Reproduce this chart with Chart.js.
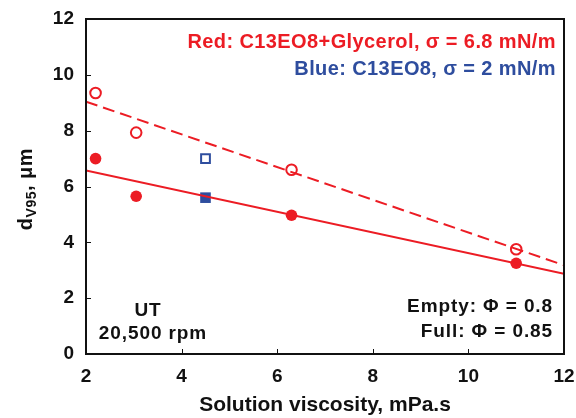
<!DOCTYPE html>
<html>
<head>
<meta charset="utf-8">
<script src="https://cdn.jsdelivr.net/npm/chart.js@4"></script>
<style>
  html, body { margin: 0; padding: 0; background: #fff; }
  #wrap { width: 576px; height: 418px; }
</style>
</head>
<body>
<div id="wrap"><canvas id="myChart" width="576" height="418"></canvas></div>
<script>
// values
const redEmptyX = [2.2, 3.05, 6.3, 11];
const redEmptyY = [9.35, 7.93, 6.6, 3.75];
const redFullX = [2.2, 3.05, 6.3, 11];
const redFullY = [7.0, 5.65, 4.97, 3.25];
const blueEmptyX = [4.5];
const blueEmptyY = [7.0];
const blueFullX = [4.5];
const blueFullY = [5.6];
const fitX = [2, 12];
const fitEmptyY = [9.04, 3.18];
const fitFullY = [6.57, 2.87];
const xTicks = [2, 4, 6, 8, 10, 12];
const yTicks = [0, 2, 4, 6, 8, 10, 12];

const RED = '#ec1c24';
const BLUE = '#2e4d9e';
const FONT = '"Liberation Sans", Arial, Helvetica, sans-serif';

const pts = (xs, ys) => xs.map((x, i) => ({ x: x, y: ys[i] }));

// frame, inner tick marks, y title with subscript, text notes
const decor = {
  id: 'decor',
  afterDraw(chart) {
    const { ctx, chartArea: a, scales } = chart;
    ctx.save();
    ctx.strokeStyle = '#111';
    ctx.lineWidth = 2;
    ctx.strokeRect(a.left, a.top, a.right - a.left, a.bottom - a.top);
    ctx.lineWidth = 1;
    ctx.beginPath();
    xTicks.forEach(v => {
      const px = Math.round(scales.x.getPixelForValue(v)) + 0.5;
      ctx.moveTo(px, a.bottom);
      ctx.lineTo(px, a.bottom - 5);
    });
    yTicks.forEach(v => {
      const py = Math.round(scales.y.getPixelForValue(v)) + 0.5;
      ctx.moveTo(a.left, py);
      ctx.lineTo(a.left + 5, py);
    });
    ctx.stroke();

    // y title: d_V95, µm
    ctx.translate(32, 189);
    ctx.rotate(-Math.PI / 2);
    ctx.fillStyle = '#111';
    ctx.textBaseline = 'alphabetic';
    ctx.letterSpacing = '0.5px';
    const big = 'bold 20px ' + FONT, small = 'bold 14px ' + FONT;
    ctx.font = big; const w1 = ctx.measureText('d').width;
    ctx.font = small; const w2 = ctx.measureText('V95').width;
    ctx.font = big; const w3 = ctx.measureText(', \u03bcm').width;
    let x0 = -(w1 + w2 + w3) / 2;
    ctx.font = big; ctx.fillText('d', x0, 0);
    ctx.font = small; ctx.fillText('V95', x0 + w1, 4);
    ctx.font = big; ctx.fillText(', \u03bcm', x0 + w1 + w2, 0);
    ctx.setTransform(1, 0, 0, 1, 0, 0);

    ctx.font = 'bold 20px ' + FONT;
    ctx.letterSpacing = '0.4px';
    ctx.textAlign = 'right';
    ctx.fillStyle = RED;
    ctx.fillText('Red: C13EO8+Glycerol, \u03c3 = 6.8 mN/m', 556, 48);
    ctx.fillStyle = BLUE;
    ctx.fillText('Blue: C13EO8, \u03c3 = 2 mN/m', 556, 75);
    ctx.font = 'bold 19px ' + FONT;
    ctx.letterSpacing = '0.9px';
    ctx.fillStyle = '#111';
    ctx.fillText('Empty: \u03a6 = 0.8', 553, 312);
    ctx.fillText('Full: \u03a6 = 0.85', 553, 337);
    ctx.textAlign = 'center';
    ctx.fillText('UT', 148, 316);
    ctx.fillText('20,500 rpm', 153, 339);
    ctx.restore();
  }
};

const ctx = document.getElementById('myChart').getContext('2d');
new Chart(ctx, {
  type: 'scatter',
  data: {
    datasets: [
      { type: 'line', data: pts(fitX, fitEmptyY), borderColor: RED, borderWidth: 2,
        borderDash: [12, 6], pointRadius: 0, fill: false },
      { type: 'line', data: pts(fitX, fitFullY), borderColor: RED, borderWidth: 2,
        pointRadius: 0, fill: false },
      { data: pts(redEmptyX, redEmptyY), pointStyle: 'circle', pointRadius: 5.3,
        backgroundColor: '#fff', borderColor: RED, borderWidth: 2 },
      { data: pts(redFullX, redFullY), pointStyle: 'circle', pointRadius: 5.8,
        backgroundColor: RED, borderColor: RED, borderWidth: 0 },
      { data: pts(blueEmptyX, blueEmptyY), pointStyle: 'rect', pointRadius: 6.2,
        backgroundColor: '#fff', borderColor: BLUE, borderWidth: 2 },
      { data: pts(blueFullX, blueFullY), pointStyle: 'rect', pointRadius: 7.5,
        backgroundColor: BLUE, borderColor: BLUE, borderWidth: 0 }
    ]
  },
  options: {
    responsive: false,
    animation: false,
    layout: { padding: { left: 0, right: 12, top: 19, bottom: 0 } },
    plugins: { legend: { display: false }, tooltip: { enabled: false } },
    scales: {
      x: {
        type: 'linear', min: 2, max: 12,
        afterBuildTicks: s => { s.ticks = xTicks.map(v => ({ value: v })); },
        grid: { display: false, drawTicks: false },
        border: { display: false },
        ticks: { color: '#111', padding: 11, font: { family: FONT, size: 19, weight: 'bold' } },
        title: { display: true, text: 'Solution viscosity, mPa.s', color: '#111',
                 padding: { top: 2, bottom: 0 }, font: { family: FONT, size: 21, weight: 'bold' } },
        afterFit: s => { s.height = 64; s.paddingLeft = 0; s.paddingRight = 0; }
      },
      y: {
        type: 'linear', min: 0, max: 12,
        afterBuildTicks: s => { s.ticks = yTicks.map(v => ({ value: v })); },
        grid: { display: false, drawTicks: false },
        border: { display: false },
        ticks: { color: '#111', padding: 12, font: { family: FONT, size: 19, weight: 'bold' } },
        afterFit: s => { s.width = 86; s.paddingTop = 0; s.paddingBottom = 0; }
      }
    }
  },
  plugins: [decor]
});
</script>
</body>
</html>
